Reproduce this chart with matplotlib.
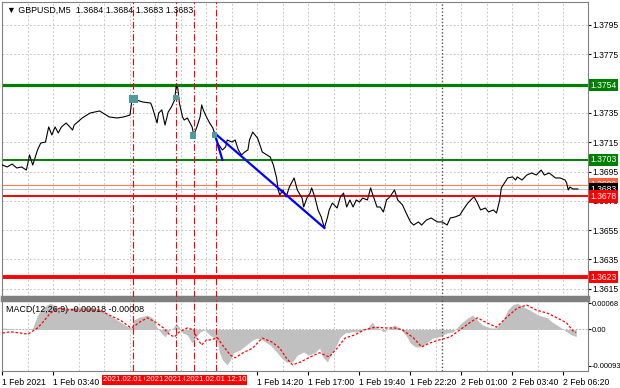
import matplotlib
matplotlib.use("Agg")
import matplotlib.pyplot as plt
from matplotlib.transforms import blended_transform_factory

plt.rcParams["font.family"] = ["Liberation Sans", "DejaVu Sans"]

# 5-minute bars counted from 1 Feb 2021 01:00
price_bar = [0, 3, 6, 9, 12, 15, 17, 19, 22, 24, 27, 29, 31, 33, 35, 37, 40, 44, 45, 50,
             55, 61, 63, 67, 72, 76, 80, 81, 82, 84, 88, 93, 94, 97, 98, 100, 102, 104, 106, 108,
             109, 110, 111, 113, 114, 116, 119, 120, 122, 124, 125, 126, 128, 130, 132, 133, 135, 138, 140, 141,
             144, 146, 148, 150, 152, 154, 155, 157, 160, 162, 163, 166, 168, 170, 172, 173, 174, 176, 178, 180,
             183, 185, 188, 189, 191, 193, 194, 196, 198, 200, 202, 204, 205, 207, 210, 212, 214, 216, 218, 220,
             222, 224, 226, 229, 231, 232, 235, 237, 239, 241, 243, 246, 248, 251, 253, 256, 258, 261, 263, 266,
             269, 271, 273, 276, 279, 281, 284, 287, 289, 292, 295, 296, 298, 300, 303, 305, 308, 310, 312, 313,
             315, 317, 320, 322, 323, 326, 329, 332, 335, 338, 340, 343, 347, 350, 353, 354, 355, 356, 358, 361]
price_close = [1.36994, 1.36981, 1.37001, 1.36974, 1.36981, 1.36960, 1.37063, 1.36994, 1.37097, 1.37144,
               1.37151, 1.37254, 1.37199, 1.37254, 1.37213, 1.37254, 1.37281, 1.37233, 1.37267, 1.37315,
               1.37349, 1.37363, 1.37349, 1.37322, 1.37315, 1.37322, 1.37335, 1.37417, 1.37451, 1.37438,
               1.37424, 1.37417, 1.37390, 1.37281, 1.37349, 1.37370, 1.37267, 1.37356, 1.37390, 1.37438,
               1.37533, 1.37520, 1.37417, 1.37322, 1.37301, 1.37315, 1.37254, 1.37199, 1.37254, 1.37322,
               1.37404, 1.37370, 1.37322, 1.37281, 1.37247, 1.37213, 1.37144, 1.37097, 1.37117, 1.37165,
               1.37151, 1.37165, 1.37097, 1.37063, 1.37083, 1.37097, 1.37165, 1.37219, 1.37179, 1.37117,
               1.37083, 1.37063, 1.37049, 1.36994, 1.36906, 1.36824, 1.36790, 1.36824, 1.36776, 1.36844,
               1.36906, 1.36824, 1.36769, 1.36708, 1.36769, 1.36803, 1.36838, 1.36776, 1.36688, 1.36640,
               1.36565, 1.36640, 1.36688, 1.36735, 1.36701, 1.36776, 1.36803, 1.36708, 1.36756, 1.36708,
               1.36756, 1.36742, 1.36769, 1.36756, 1.36838, 1.36803, 1.36708, 1.36708, 1.36674, 1.36756,
               1.36776, 1.36824, 1.36756, 1.36722, 1.36674, 1.36606, 1.36585, 1.36606, 1.36585, 1.36619,
               1.36633, 1.36619, 1.36606, 1.36606, 1.36585, 1.36633, 1.36640, 1.36653, 1.36688, 1.36735,
               1.36769, 1.36776, 1.36735, 1.36688, 1.36701, 1.36674, 1.36688, 1.36667, 1.36756, 1.36838,
               1.36872, 1.36906, 1.36913, 1.36892, 1.36913, 1.36892, 1.36926, 1.36940, 1.36926, 1.36960,
               1.36926, 1.36940, 1.36906, 1.36906, 1.36892, 1.36872, 1.36824, 1.36844, 1.36831, 1.36831]

macd_bar = [0, 8, 16, 19, 22, 25, 28, 30, 34, 40, 47, 53, 59, 63, 67, 74, 79, 81, 82, 86,
            91, 94, 97, 99, 102, 104, 107, 109, 111, 113, 116, 119, 121, 124, 127, 130, 132, 135, 136, 138,
            141, 143, 145, 149, 153, 157, 160, 163, 168, 172, 175, 178, 182, 185, 189, 192, 196, 199, 201, 204,
            205, 209, 212, 215, 219, 224, 229, 232, 234, 236, 239, 243, 246, 249, 253, 256, 259, 263, 266, 270,
            274, 279, 283, 285, 288, 292, 295, 298, 301, 306, 310, 314, 317, 320, 323, 327, 331, 336, 342, 345,
            350, 354, 357, 360]
macd_hist = [0.00004, 0.00001, -0.00001, 0.00004, 0.00037, 0.00055, 0.00063, 0.00068, 0.00058, 0.00055,
             0.00058, 0.00058, 0.00055, 0.00050, 0.00037, 0.00019, 0.00006, 0.00004, 0.00024, 0.00032,
             0.00037, 0.00030, 0.00006, -0.00006, -0.00019, -0.00006, 0.00004, 0.00015, 0.00006, -0.00009,
             -0.00014, -0.00035, -0.00022, -0.00006, -0.00001, -0.00014, -0.00019, -0.00032, -0.00058, -0.00078,
             -0.00091, -0.00078, -0.00060, -0.00053, -0.00040, -0.00027, -0.00022, -0.00027, -0.00040, -0.00058,
             -0.00073, -0.00084, -0.00084, -0.00066, -0.00058, -0.00066, -0.00060, -0.00048, -0.00071, -0.00084,
             -0.00073, -0.00045, -0.00019, -0.00009, -0.00006, -0.00006, 0.00004, 0.00019, 0.00006, 0.00004,
             -0.00006, 0.00004, 0.00012, 0.00004, -0.00014, -0.00035, -0.00045, -0.00045, -0.00035, -0.00022,
             -0.00019, -0.00009, -0.00006, 0.00004, 0.00017, 0.00030, 0.00037, 0.00024, 0.00012, 0.00004,
             0.00004, 0.00024, 0.00050, 0.00063, 0.00068, 0.00058, 0.00050, 0.00037, 0.00030, 0.00019,
             0.00006, -0.00006, -0.00014, -0.00018]

signal_bar = [0, 5, 11, 16, 22, 25, 30, 33, 36, 42, 49, 55, 61, 67, 74, 80, 82, 86, 91, 96,
              101, 105, 108, 111, 116, 120, 122, 125, 128, 130, 135, 138, 143, 146, 151, 157, 163, 169, 174, 178,
              182, 187, 193, 199, 205, 210, 215, 221, 227, 234, 240, 246, 251, 258, 263, 268, 274, 281, 287, 293,
              298, 304, 310, 316, 323, 329, 335, 342, 348, 354, 358, 360]
signal_vals = [-0.00009, -0.00006, -0.00009, -0.00012, 0.00004, 0.00017, 0.00042, 0.00050, 0.00055, 0.00050,
               0.00050, 0.00050, 0.00050, 0.00037, 0.00024, 0.00006, 0.00006, 0.00019, 0.00030, 0.00019,
               0.00004, -0.00014, -0.00019, -0.00006, 0.00004, -0.00001, -0.00022, -0.00040, -0.00027, -0.00027,
               -0.00022, -0.00040, -0.00066, -0.00073, -0.00060, -0.00048, -0.00022, -0.00032, -0.00048, -0.00073,
               -0.00091, -0.00084, -0.00071, -0.00060, -0.00071, -0.00048, -0.00022, -0.00014, -0.00001, 0.00006,
               0.00004, 0.00004, -0.00001, -0.00022, -0.00045, -0.00035, -0.00027, -0.00019, -0.00001, 0.00017,
               0.00030, 0.00017, 0.00006, 0.00030, 0.00055, 0.00063, 0.00050, 0.00042, 0.00030, 0.00017,
               -0.00004, -0.00008]

# horizontal levels
level_green = [1.3754, 1.3703]
level_red = [1.3678, 1.3623]
ask_price = 1.3686
bid_price = 1.3683

# drawn objects
trend_bar = [133, 202]
trend_price = [1.37213, 1.36565]
short_bar = [133, 138]
short_price = [1.37213, 1.37029]
mark_bar = [82, 109, 119.5, 133]
mark_price = [1.37445, 1.37455, 1.37196, 1.37199]
mark_size = [40, 18, 22, 14]

vline_bar = [82, 109, 120, 134]
vline_text = ["2021.02.01 07:50", "2021.02.01 10:05", "2021.02.01 11:00", "2021.02.01 12:10"]
separator_bar = 276

time_ticks = [0, 32, 160, 192, 224, 256, 288, 320, 352]
time_labels = ["1 Feb 2021", "1 Feb 03:40", "1 Feb 14:20", "1 Feb 17:00", "1 Feb 19:40",
               "1 Feb 22:20", "2 Feb 01:00", "2 Feb 03:40", "2 Feb 06:20"]
price_ticks = [1.3615, 1.3635, 1.3655, 1.3675, 1.3695, 1.3715, 1.3735, 1.3755, 1.3775, 1.3795]

fig = plt.figure(figsize=(6.2, 3.88), dpi=100)
ax = fig.add_axes([0.0032, 0.2345, 0.9452, 0.7603])
ax2 = fig.add_axes([0.0032, 0.0438, 0.9452, 0.183])

XMIN, XMAX = -0.3, 367.4
ax.set_xlim(XMIN, XMAX)
ax.set_ylim(1.36094, 1.38106)
ax2.set_xlim(XMIN, XMAX)
ax2.set_ylim(-0.00107, 0.00076)

grid_col = "#c8c8c8"
for a in (ax, ax2):
    a.set_xticks(range(0, 368, 16), minor=True)
    a.grid(True, which="minor", axis="x", color=grid_col, ls=(0, (2, 2)), lw=0.7)
    for s in a.spines.values():
        s.set_color("#808080")
    for b in vline_bar:
        a.axvline(b, color="red", ls=(0, (6, 2, 1, 2)), lw=0.8, zorder=3)
    a.axvline(separator_bar, color="#505050", ls=(0, (1, 1.5)), lw=1.0, zorder=3)

ax.spines["bottom"].set_linewidth(2.5)
ax2.spines["top"].set_linewidth(2.5)

# main panel
ax.set_xticks([])
ax.set_xticks(range(0, 368, 16), minor=True)
ax.tick_params(axis="x", which="both", length=0, labelbottom=False)
ax.yaxis.tick_right()
ax.set_yticks(price_ticks)
ax.set_yticklabels([f"{p:.4f}" for p in price_ticks])
ax.tick_params(axis="y", labelsize=6.2, length=2, pad=1.5, colors="black")
ax.grid(True, which="major", axis="y", color=grid_col, ls=(0, (2, 2)), lw=0.7)

ax.axhline(level_green[0], color="#008000", lw=2.3, zorder=2)
ax.axhline(level_green[1], color="#008000", lw=1.4, zorder=2)
ax.axhline(level_red[0], color="#ff0000", lw=1.4, zorder=2)
ax.axhline(level_red[1], color="#ff0000", lw=2.8, zorder=2)
ax.axhline(ask_price, color="#ff7f50", lw=0.8, zorder=2)
ax.axhline(bid_price, color="#c0c0c0", lw=0.8, zorder=2)

ax.plot(price_bar, price_close, color="black", lw=0.8, zorder=4)
ax.plot(trend_bar, trend_price, color="#0000ff", lw=1.6, zorder=5)
ax.plot(short_bar, short_price, color="#0000ff", lw=1.6, zorder=5)
ax.scatter(mark_bar, mark_price, s=mark_size, marker="s", color="#4f9a9a", zorder=6, linewidths=0)

ax.text(0.008, 0.988, "\u25bc GBPUSD,M5  1.3684 1.3684 1.3683 1.3683", transform=ax.transAxes,
        ha="left", va="top", fontsize=6.4)

tr = blended_transform_factory(ax.transAxes, ax.transData)


def tag(val, text, fc, tc="white"):
    ax.text(1.004, val, text, transform=tr, ha="left", va="center", fontsize=6.2, color=tc,
            bbox=dict(boxstyle="square,pad=0.2", fc=fc, ec="none"), clip_on=False, zorder=6)


tag(level_green[0], "1.3754", "#008000")
tag(level_green[1], "1.3703", "#008000")
tag(ask_price, "1.3686", "#ff6040")
tag(bid_price, "1.3683", "black")
tag(level_red[0], "1.3678", "#ff0000")
tag(level_red[1], "1.3623", "#ff0000")

# MACD panel
ax2.axhline(0, color="#a0a0a0", ls=(0, (2, 2)), lw=0.6, zorder=1)
ax2.fill_between(macd_bar, macd_hist, 0, color="#c0c0c0", lw=0, zorder=2)
ax2.plot(signal_bar, signal_vals, color="#ff0000", ls=(0, (2, 1.5)), lw=0.9, zorder=4)
ax2.text(0.006, 0.93, "MACD(12,26,9) -0.00018 -0.00008", transform=ax2.transAxes,
         ha="left", va="top", fontsize=6.4)

ax2.yaxis.tick_right()
ax2.set_yticks([0.00068, 0.0, -0.00093])
ax2.set_yticklabels(["0.00068", "0.00", "-0.00093"])
ax2.tick_params(axis="y", labelsize=5.4, length=2, pad=0.8)
ax2.set_xticks(time_ticks)
ax2.set_xticklabels(time_labels, ha="left")
ax2.tick_params(axis="x", which="major", labelsize=6.2, length=3, pad=2)
ax2.tick_params(axis="x", which="minor", length=0)

trx = blended_transform_factory(ax2.transData, ax2.transAxes)
for b, t in zip(vline_bar, vline_text):
    ax2.text(b, -0.125, t, transform=trx, ha="center", va="center", fontsize=5.6, color="white",
             bbox=dict(boxstyle="square,pad=0.15", fc="#ff0000", ec="none"), clip_on=False, zorder=6)

fig.savefig("out.png", dpi=100, facecolor="white")
